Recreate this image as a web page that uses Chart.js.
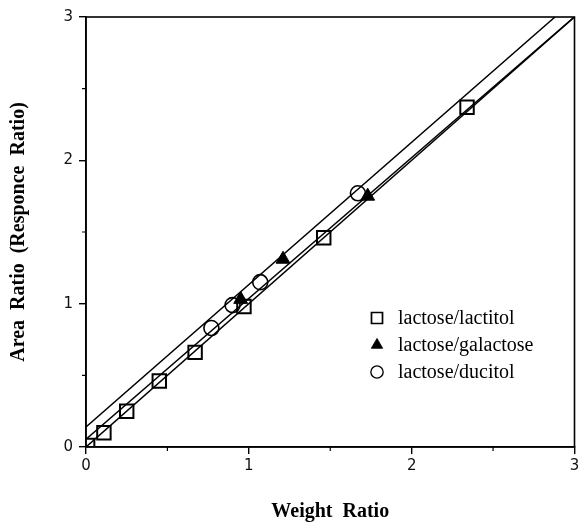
<!DOCTYPE html>
<html>
<head>
<meta charset="utf-8">
<script src="https://cdn.jsdelivr.net/npm/chart.js@4"></script>
<style>
  html, body { margin: 0; padding: 0; background: #fff; }
  #wrap { width: 586px; height: 525px; }
</style>
</head>
<body>
<div id="wrap"><canvas id="chart" width="586" height="525"></canvas></div>
<script>
// lactose/lactitol (squares)
const lactitolX = [0.01, 0.11, 0.25, 0.45, 0.67, 0.97, 1.46, 2.34];
const lactitolY = [0.01, 0.10, 0.25, 0.46, 0.66, 0.98, 1.46, 2.37];
// lactose/galactose (filled triangles)
const galactoseX = [0.95, 1.21, 1.73];
const galactoseY = [1.03, 1.31, 1.75];
// lactose/ducitol (circles)
const ducitolX = [0.77, 0.90, 1.07, 1.67];
const ducitolY = [0.83, 0.99, 1.15, 1.77];

// regression lines drawn in the figure
const fitIntercepts = [0.14, 0.055, 0.0];
const fitSlopes = [0.993, 0.982, 1.0];

const xTicks = [0, 1, 2, 3];
const yTicks = [0, 1, 2, 3];
const minorTicks = [0.5, 1.5, 2.5];

const seriesNames = ['lactose/lactitol', 'lactose/galactose', 'lactose/ducitol'];

const toPoints = (xs, ys) => xs.map((x, i) => ({ x: x, y: ys[i] }));

const fitLines = fitIntercepts.map((b, i) => {
  const m = fitSlopes[i];
  const xEnd = Math.min(3, (3 - b) / m);
  return {
    type: 'line',
    data: [{ x: 0, y: b }, { x: xEnd, y: b + m * xEnd }],
    borderColor: '#000',
    borderWidth: 1.5,
    pointRadius: 0,
    showLine: true,
    fill: false,
    order: 2
  };
});

const markerStyles = [
  { pointStyle: 'rect', radius: 9.5, fill: 'rgba(0,0,0,0)', lw: 2 },
  { pointStyle: 'triangle', radius: 8, fill: '#000', lw: 1 },
  { pointStyle: 'circle', radius: 7.5, fill: 'rgba(0,0,0,0)', lw: 1.6 }
];

const markerSets = [
  toPoints(lactitolX, lactitolY),
  toPoints(galactoseX, galactoseY),
  toPoints(ducitolX, ducitolY)
].map((pts, i) => ({
  label: seriesNames[i],
  data: pts,
  pointStyle: markerStyles[i].pointStyle,
  pointRadius: markerStyles[i].radius,
  pointBackgroundColor: markerStyles[i].fill,
  pointBorderColor: '#000',
  pointBorderWidth: markerStyles[i].lw,
  showLine: false,
  order: 1
}));

const framePlugin = {
  id: 'frame',
  afterDraw (chart) {
    const { ctx, chartArea: a, scales } = chart;
    ctx.save();
    ctx.strokeStyle = '#000';
    ctx.lineWidth = 1.6;
    ctx.strokeRect(a.left, a.top, a.right - a.left, a.bottom - a.top);
    // short minor ticks
    ctx.lineWidth = 1.2;
    ctx.beginPath();
    minorTicks.forEach(v => {
      const px = scales.x.getPixelForValue(v);
      ctx.moveTo(px, a.bottom);
      ctx.lineTo(px, a.bottom + 4);
      const py = scales.y.getPixelForValue(v);
      ctx.moveTo(a.left, py);
      ctx.lineTo(a.left - 4, py);
    });
    ctx.stroke();

    // legend inside plot
    const lx = 377, ly = 318, gap = 27;
    ctx.font = '20px "Liberation Serif"';
    ctx.textBaseline = 'middle';
    seriesNames.forEach((name, i) => {
      const s = markerStyles[i];
      ctx.fillStyle = s.fill;
      ctx.strokeStyle = '#000';
      ctx.lineWidth = s.lw * 0.85;
      Chart.helpers.drawPoint(ctx, {
        pointStyle: s.pointStyle,
        radius: s.radius * 0.82,
        borderWidth: s.lw * 0.85
      }, lx, ly + i * gap);
      ctx.fillStyle = '#000';
      ctx.fillText(name, 398, ly + i * gap + 1);
    });
    ctx.restore();
  }
};

new Chart(document.getElementById('chart'), {
  type: 'scatter',
  data: { datasets: fitLines.concat(markerSets) },
  options: {
    responsive: false,
    animation: false,
    layout: { padding: { top: 17, right: 8, left: 0, bottom: 0 } },
    plugins: {
      legend: { display: false },
      tooltip: { enabled: false }
    },
    scales: {
      x: {
        type: 'linear',
        min: 0,
        max: 3,
        afterFit (scale) { scale.height = 78; },
        afterBuildTicks (scale) { scale.ticks = xTicks.map(v => ({ value: v })); },
        grid: { drawOnChartArea: false, drawTicks: true, tickLength: 7, color: '#000', lineWidth: 1.4 },
        border: { display: true, color: '#000', width: 1.6 },
        ticks: {
          color: '#111',
          padding: 3,
          font: { family: 'DejaVu Sans', size: 15 }
        },
        title: {
          display: true,
          text: 'Weight  Ratio',
          color: '#000',
          padding: { top: 0, bottom: 1 },
          font: { family: 'Liberation Serif', size: 20, weight: 'bold', lineHeight: 1.2 }
        }
      },
      y: {
        type: 'linear',
        min: 0,
        max: 3,
        afterFit (scale) { scale.width = 86; },
        afterBuildTicks (scale) { scale.ticks = yTicks.map(v => ({ value: v })); },
        grid: { drawOnChartArea: false, drawTicks: true, tickLength: 7, color: '#000', lineWidth: 1.4 },
        border: { display: true, color: '#000', width: 1.6 },
        ticks: {
          color: '#111',
          padding: 6,
          font: { family: 'DejaVu Sans', size: 15 }
        },
        title: {
          display: true,
          text: 'Area  Ratio  (Responce  Ratio)',
          color: '#000',
          padding: { top: 7, bottom: 0 },
          font: { family: 'Liberation Serif', size: 20, weight: 'bold', lineHeight: 1.2 }
        }
      }
    }
  },
  plugins: [framePlugin]
});
</script>
</body>
</html>
